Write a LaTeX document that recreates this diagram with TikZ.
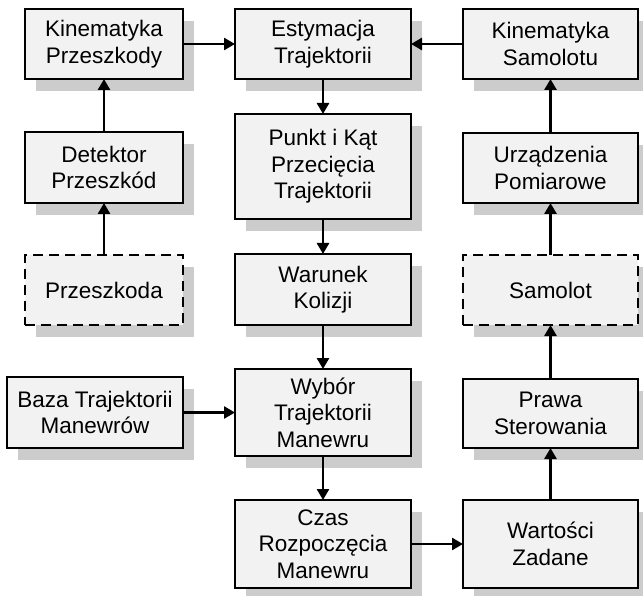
\documentclass[tikz,border=0pt]{standalone}
\usepackage{fontspec}
\setmainfont{Liberation Sans}
\usetikzlibrary{arrows.meta}
\definecolor{shadowc}{RGB}{204,204,204}
\definecolor{boxfill}{RGB}{242,242,242}
\begin{document}
\begin{tikzpicture}[x=1pt,y=-1pt,
  box/.style={draw=black, line width=2.8pt, fill=boxfill, align=center,
    inner sep=0pt, outer sep=0pt, font=\fontsize{22.5}{26.5}\selectfont},
  dbox/.style={box, dash pattern=on 10pt off 6pt},
  shadowbox/.style={draw=none, fill=shadowc},
  arr/.style={line width=2.6pt, -{Triangle[length=11pt,width=12pt]}}
]
\useasboundingbox (0,0) rectangle (643,596);
% shadows (drawn first, offset 11 right, 12 down)
\fill[shadowc] (36,21) rectangle (194,91);
\fill[shadowc] (36,144) rectangle (194,215);
\fill[shadowc] (36,267) rectangle (194,337);
\fill[shadowc] (18,389) rectangle (194,460);
\fill[shadowc] (246,21) rectangle (422,91);
\fill[shadowc] (246,126) rectangle (422,231);
\fill[shadowc] (246,266) rectangle (422,337);
\fill[shadowc] (246,381) rectangle (422,468);
\fill[shadowc] (246,512) rectangle (422,596);
\fill[shadowc] (474,21) rectangle (643,91);
\fill[shadowc] (474,145) rectangle (643,215);
\fill[shadowc] (474,267) rectangle (643,337);
\fill[shadowc] (474,391) rectangle (643,460);
\fill[shadowc] (474,512) rectangle (643,596);
% left column
\node[box, minimum width=158pt, minimum height=70pt] (kp) at (104,44) {Kinematyka\\Przeszkody};
\node[box, minimum width=158pt, minimum height=71pt] (det) at (104,167.5) {Detektor\\Przeszkód};
\node[dbox, minimum width=158pt, minimum height=70pt] (prz) at (104,290) {Przeszkoda};
\node[box, minimum width=176pt, minimum height=71pt] (baza) at (95,412.5) {Baza Trajektorii\\Manewrów};
% middle column
\node[box, minimum width=176pt, minimum height=70pt] (est) at (323,44) {Estymacja\\Trajektorii};
\node[box, minimum width=176pt, minimum height=105pt] (pk) at (323,166.5) {Punkt i Kąt\\Przecięcia\\Trajektorii};
\node[box, minimum width=176pt, minimum height=71pt] (war) at (323,289.5) {Warunek\\Kolizji};
\node[box, minimum width=176pt, minimum height=87pt] (wyb) at (323,412.5) {Wybór\\Trajektorii\\Manewru};
\node[box, minimum width=176pt, minimum height=88pt] (czas) at (323,544) {Czas\\Rozpoczęcia\\Manewru};
% right column
\node[box, minimum width=175pt, minimum height=70pt] (ks) at (550.5,44) {Kinematyka\\Samolotu};
\node[box, minimum width=175pt, minimum height=70pt] (urz) at (550.5,168) {Urządzenia\\Pomiarowe};
\node[dbox, minimum width=175pt, minimum height=70pt] (sam) at (550.5,290) {Samolot};
\node[box, minimum width=175pt, minimum height=69pt] (pr) at (550.5,413.5) {Prawa\\Sterowania};
\node[box, minimum width=175pt, minimum height=88pt] (wz) at (550.5,544) {Wartości\\Zadane};
% connectors
\draw[arr] (kp) -- (est);
\draw[arr] (ks) -- (est);
\draw[arr] (est) -- (pk);
\draw[arr] (det) -- (kp);
\draw[arr] (prz) -- (det);
\draw[arr] (pk) -- (war);
\draw[arr] (war) -- (wyb);
\draw[arr] (baza) -- (wyb);
\draw[arr] (wyb) -- (czas);
\draw[arr] (czas) -- (wz);
\draw[arr] (wz) -- (pr);
\draw[arr] (pr) -- (sam);
\draw[arr] (sam) -- (urz);
\draw[arr] (urz) -- (ks);
\end{tikzpicture}
\end{document}
